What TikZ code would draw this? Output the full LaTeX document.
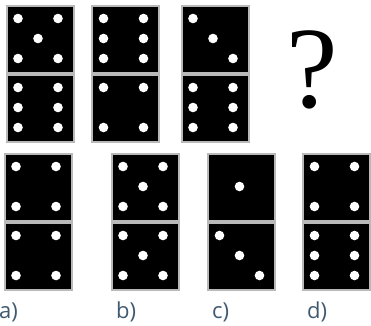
\documentclass[tikz,border=0pt]{standalone}
\usepackage{fontspec}
\newfontfamily\labelfont{Open Sans}
\newfontfamily\qfont{Liberation Serif}
\usetikzlibrary{positioning, calc}
\usepackage{xcolor}
\definecolor{labelblue}{HTML}{3F5A70}

\newcommand{\pipsone}{0/0}
\newcommand{\pipsthree}{-1/-1, 0/0, 1/1}
\newcommand{\pipsfour}{-1/-1, 1/-1, -1/1, 1/1}
\newcommand{\pipsfive}{-1/-1, 1/-1, 0/0, -1/1, 1/1}
\newcommand{\pipssix}{-1/-1, 1/-1, -1/0, 1/0, -1/1, 1/1}
\newcommand{\drawpips}[2]{\foreach \i/\j in #2 \fill[pip] ($(#1) + (-2 + 20*\i, -1 + 20*\j)$) circle (4.8pt);}

\begin{document}
\begin{tikzpicture}[
    x=1pt, y=-1pt,
    half/.style={draw=gray!55, line width=2pt, fill=black, minimum width=67pt, minimum height=67pt, inner sep=0pt},
    pip/.style={fill=white},
    lbl/.style={anchor=base west, inner sep=0pt, font=\labelfont\fontsize{22}{22}\selectfont, text=labelblue}
]
    \useasboundingbox (0, 0) rectangle (371, 325);

    % question row
    \node[half] (d1up) at (40, 39.5) {};
    \node[half] (d1dn) at (40, 108.5) {};
    \node[half] (d2up) at (125.5, 39.5) {};
    \node[half] (d2dn) at (125.5, 108.5) {};
    \node[half] (d3up) at (215, 39.5) {};
    \node[half] (d3dn) at (215, 108.5) {};

    \node[anchor=base, inner sep=0pt, font=\qfont\fontsize{116}{116}\selectfont] (qmark) at (312, 107) {?};

    % answer row
    \node[half] (daup) at (38, 187.5) {};
    \node[half] (dadn) at (38, 256.5) {};
    \node[half] (dbup) at (145, 187.5) {};
    \node[half] (dbdn) at (145, 256.5) {};
    \node[half] (dcup) at (241.5, 187.5) {};
    \node[half] (dcdn) at (241.5, 256.5) {};
    \node[half] (ddup) at (336.5, 187.5) {};
    \node[half] (dddn) at (336.5, 256.5) {};

    % pips
    \drawpips{d1up}{\pipsfive}
    \drawpips{d1dn}{\pipssix}
    \drawpips{d2up}{\pipssix}
    \drawpips{d2dn}{\pipsfour}
    \drawpips{d3up}{\pipsthree}
    \drawpips{d3dn}{\pipssix}
    \drawpips{daup}{\pipsfour}
    \drawpips{dadn}{\pipsfour}
    \drawpips{dbup}{\pipsfive}
    \drawpips{dbdn}{\pipsfive}
    \drawpips{dcup}{\pipsone}
    \drawpips{dcdn}{\pipsthree}
    \drawpips{ddup}{\pipsfour}
    \drawpips{dddn}{\pipssix}

    \node[lbl] (la) at (-1, 318) {a)};
    \node[lbl] (lb) at (116, 318) {b)};
    \node[lbl] (lc) at (212, 318) {c)};
    \node[lbl] (ld) at (307, 318) {d)};
\end{tikzpicture}
\end{document}
